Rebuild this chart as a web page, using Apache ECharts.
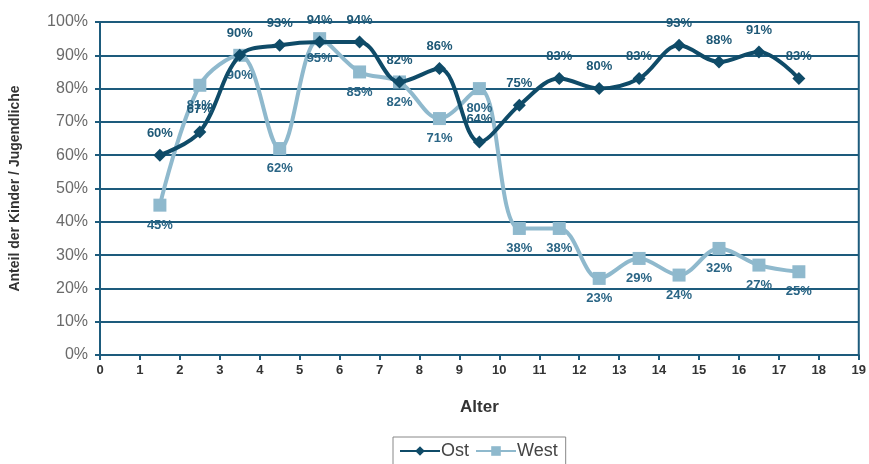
<!DOCTYPE html>
<html>
<head>
<meta charset="utf-8">
<script src="https://cdn.jsdelivr.net/npm/echarts@6/dist/echarts.min.js"></script>
<style>html,body{margin:0;padding:0;background:#fff}#c{width:869px;height:464px}</style>
</head>
<body>
<div id="c"></div>
<script>
const ages = [1.5, 2.5, 3.5, 4.5, 5.5, 6.5, 7.5, 8.5, 9.5, 10.5, 11.5, 12.5, 13.5, 14.5, 15.5, 16.5, 17.5];
const ost = [60, 67, 90, 93, 94, 94, 82, 86, 64, 75, 83, 80, 83, 93, 88, 91, 83];
const west = [45, 81, 90, 62, 95, 85, 82, 71, 80, 38, 38, 23, 29, 24, 32, 27, 25];
const seriesNames = ['Ost', 'West'];
const yAxisTitle = 'Anteil der Kinder / Jugendliche';
const xAxisTitle = 'Alter';

const ostColor = '#0f4b68';
const westColor = '#8fb9cd';
const gridColor = '#1d5b7c';

const chart = echarts.init(document.getElementById('c'));
chart.setOption({
  backgroundColor: '#ffffff',
  animation: false,
  grid: { left: 96, right: 9, top: 22, bottom: 109, show: true, borderColor: gridColor, borderWidth: 2 },
  legend: {
    data: seriesNames,
    bottom: -4,
    left: 393,
    padding: [5, 8, 8, 6],
    borderColor: '#888',
    borderWidth: 1,
    itemWidth: 40,
    itemHeight: 12,
    itemGap: 6,
    textStyle: { fontFamily: 'Liberation Sans Narrow, Liberation Sans', fontSize: 18, color: '#444', padding: [0, 0, 0, -4] }
  },
  xAxis: {
    type: 'value', min: 0, max: 19, interval: 1,
    name: xAxisTitle, nameLocation: 'middle', nameGap: 44,
    nameTextStyle: { fontFamily: 'Liberation Sans', fontWeight: 'bold', fontSize: 17, color: '#333' },
    axisLine: { lineStyle: { color: gridColor, width: 2 } },
    axisTick: { show: true, length: 5, lineStyle: { color: gridColor, width: 2 } },
    axisLabel: { fontFamily: 'Liberation Sans Narrow, Liberation Sans', fontWeight: 'bold', fontSize: 13, color: '#333', margin: 9 },
    splitLine: { show: false }
  },
  yAxis: {
    type: 'value', min: 0, max: 100, interval: 10,
    name: yAxisTitle, nameLocation: 'middle', nameGap: 78, nameRotate: 90,
    nameTextStyle: { fontFamily: 'Liberation Sans', fontWeight: 'bold', fontSize: 14, color: '#333' },
    axisLine: { show: true, lineStyle: { color: gridColor, width: 2 } },
    axisTick: { show: true, length: 5, lineStyle: { color: gridColor, width: 2 } },
    axisLabel: { formatter: '{value}%', fontFamily: 'Liberation Sans', fontSize: 16, color: '#6a6a6a', margin: 12 },
    splitLine: { show: true, lineStyle: { color: gridColor, width: 2 } }
  },
  series: [
    {
      name: seriesNames[0], type: 'line', smooth: 0.35,
      data: ages.map((a, i) => [a, ost[i]]),
      symbol: 'diamond', symbolSize: 13,
      lineStyle: { color: ostColor, width: 4 },
      itemStyle: { color: ostColor },
      label: { show: true, position: 'top', distance: 9, formatter: p => p.value[1] + '%',
        fontFamily: 'Liberation Sans', fontWeight: 'bold', fontSize: 13, color: '#1e5876' },
      z: 3
    },
    {
      name: seriesNames[1], type: 'line', smooth: 0.35,
      data: ages.map((a, i) => [a, west[i]]),
      symbol: 'rect', symbolSize: 13,
      lineStyle: { color: westColor, width: 4 },
      itemStyle: { color: westColor },
      label: { show: true, position: 'bottom', distance: 7, formatter: p => p.value[1] + '%',
        fontFamily: 'Liberation Sans', fontWeight: 'bold', fontSize: 13, color: '#2a6585' },
      z: 2
    }
  ]
});
</script>
</body>
</html>
